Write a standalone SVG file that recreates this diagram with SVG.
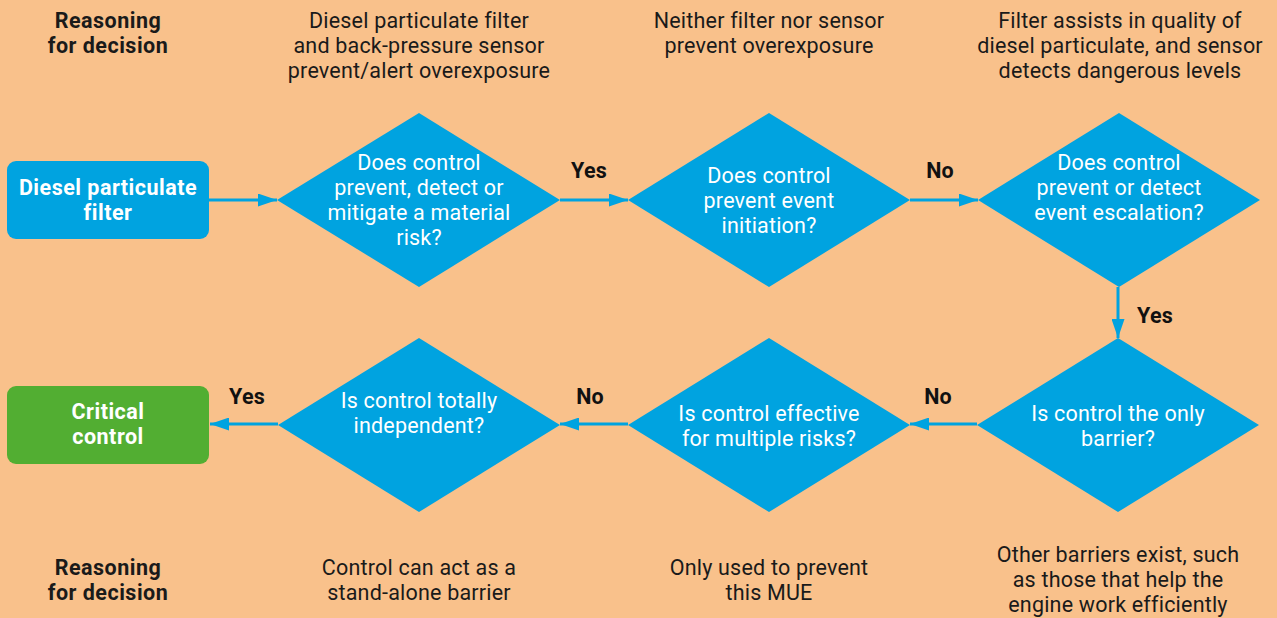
<svg xmlns="http://www.w3.org/2000/svg" width="1277" height="618" viewBox="0 0 1277 618">
<style>
text{font-family:Roboto,"Liberation Sans",sans-serif;font-size:21.5px;text-anchor:middle;letter-spacing:0.2px}
.cap{fill:#1a1a1a}
.b{font-weight:bold;letter-spacing:0.5px}
.w{fill:#ffffff}
.lbl{fill:#111111;font-weight:bold}
.dia{fill:#00a3e0}
.box{fill:#00a3e0}
.green{fill:#52ae32}
.con line{stroke:#00a3e0;stroke-width:3}
</style>
<defs>
<marker id="ah" markerWidth="19" markerHeight="13" refX="19" refY="6.5" orient="auto" markerUnits="userSpaceOnUse">
<path d="M0,0 L19,6.5 L0,13 Z" fill="#00a3e0"/>
</marker>
</defs>
<rect width="1277" height="618" fill="#f9c18b"/>

<g id="captions-top">
<text class="cap b" x="108" y="28">Reasoning</text>
<text class="cap b" x="108" y="53">for decision</text>
<text class="cap" x="419" y="28">Diesel particulate filter</text>
<text class="cap" x="419" y="53">and back-pressure sensor</text>
<text class="cap" x="419" y="78">prevent/alert overexposure</text>
<text class="cap" x="769" y="28">Neither filter nor sensor</text>
<text class="cap" x="769" y="53">prevent overexposure</text>
<text class="cap" x="1120" y="28">Filter assists in quality of</text>
<text class="cap" x="1120" y="53">diesel particulate, and sensor</text>
<text class="cap" x="1120" y="78">detects dangerous levels</text>
</g>

<g id="captions-bottom">
<text class="cap b" x="108" y="575">Reasoning</text>
<text class="cap b" x="108" y="600">for decision</text>
<text class="cap" x="419" y="575">Control can act as a</text>
<text class="cap" x="419" y="600">stand-alone barrier</text>
<text class="cap" x="769" y="575">Only used to prevent</text>
<text class="cap" x="769" y="600">this MUE</text>
<text class="cap" x="1118" y="562">Other barriers exist, such</text>
<text class="cap" x="1118" y="587">as those that help the</text>
<text class="cap" x="1118" y="612">engine work efficiently</text>
</g>

<g id="connectors" class="con">
<line x1="209" y1="200" x2="277" y2="200" marker-end="url(#ah)"/>
<line x1="560" y1="200" x2="628" y2="200" marker-end="url(#ah)"/>
<line x1="910" y1="200" x2="978" y2="200" marker-end="url(#ah)"/>
<line x1="1118" y1="287" x2="1118" y2="338" marker-end="url(#ah)"/>
<line x1="977" y1="424" x2="910" y2="424" marker-end="url(#ah)"/>
<line x1="628" y1="424" x2="560" y2="424" marker-end="url(#ah)"/>
<line x1="278" y1="424" x2="210" y2="424" marker-end="url(#ah)"/>
</g>

<g id="edge-labels">
<text class="lbl" x="589" y="178">Yes</text>
<text class="lbl" x="940" y="178">No</text>
<text class="lbl" x="1155" y="323">Yes</text>
<text class="lbl" x="938" y="404">No</text>
<text class="lbl" x="590" y="404">No</text>
<text class="lbl" x="247" y="404">Yes</text>
</g>

<g id="start">
<rect class="box" x="7" y="161" width="202" height="78" rx="9"/>
<text class="w b" x="108" y="195">Diesel particulate</text>
<text class="w b" x="108" y="220">filter</text>
</g>

<g id="q1">
<polygon class="dia" points="419,113 560,200 419,287 277,200"/>
<text class="w" x="419" y="170">Does control</text>
<text class="w" x="419" y="195">prevent, detect or</text>
<text class="w" x="419" y="220">mitigate a material</text>
<text class="w" x="419" y="245">risk?</text>
</g>

<g id="q2">
<polygon class="dia" points="769,113 910,200 769,287 628,200"/>
<text class="w" x="769" y="183">Does control</text>
<text class="w" x="769" y="208">prevent event</text>
<text class="w" x="769" y="233">initiation?</text>
</g>

<g id="q3">
<polygon class="dia" points="1119,113 1260,200 1119,287 978,200"/>
<text class="w" x="1119" y="170">Does control</text>
<text class="w" x="1119" y="195">prevent or detect</text>
<text class="w" x="1119" y="220">event escalation?</text>
</g>

<g id="q4">
<polygon class="dia" points="1118,338 1259,425 1118,512 977,425"/>
<text class="w" x="1118" y="421">Is control the only</text>
<text class="w" x="1118" y="446">barrier?</text>
</g>

<g id="q5">
<polygon class="dia" points="769,338 910,425 769,512 628,425"/>
<text class="w" x="769" y="421">Is control effective</text>
<text class="w" x="769" y="446">for multiple risks?</text>
</g>

<g id="q6">
<polygon class="dia" points="419,338 560,425 419,512 278,425"/>
<text class="w" x="419" y="408">Is control totally</text>
<text class="w" x="419" y="433">independent?</text>
</g>

<g id="end">
<rect class="green" x="7" y="386" width="202" height="78" rx="9"/>
<text class="w b" x="108" y="419">Critical</text>
<text class="w b" x="108" y="444">control</text>
</g>
</svg>
